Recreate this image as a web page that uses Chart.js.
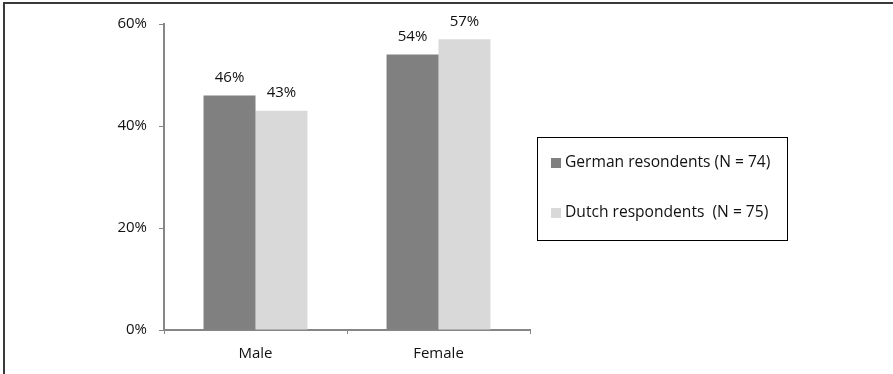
<!DOCTYPE html>
<html>
<head>
<meta charset="utf-8">
<script src="https://cdn.jsdelivr.net/npm/chart.js@4"></script>
<style>
  html, body { margin: 0; padding: 0; background: #fff; }
  #frame {
    position: absolute; left: 3px; top: 2px; right: 0; bottom: 0;
    border-left: 2px solid #3a3a3a; border-top: 2px solid #3a3a3a;
  }
  #wrap { position: absolute; left: 0; top: 0; width: 893px; height: 374px; }
</style>
</head>
<body>
<div id="frame"></div>
<div id="wrap"><canvas id="chart" width="893" height="374"></canvas></div>
<script>
const categories = ['Male', 'Female'];
const germanValues = [46, 54];
const dutchValues = [43, 57];
const seriesLabels = ['German resondents (N = 74)', 'Dutch respondents  (N = 75)'];
const tickValues = [0, 20, 40, 60];

const FONT = '"Open Sans", sans-serif';
const TEXT = '#111';
const AXIS = '#868686';

// value labels over each bar
const barLabels = {
  id: 'barLabels',
  afterDatasetsDraw(chart) {
    const ctx = chart.ctx;
    ctx.save();
    ctx.font = '15px ' + FONT;
    ctx.fillStyle = TEXT;
    ctx.textAlign = 'center';
    ctx.textBaseline = 'middle';
    chart.data.datasets.forEach((ds, i) => {
      chart.getDatasetMeta(i).data.forEach((bar, j) => {
        ctx.fillText(ds.data[j] + '%', bar.x, bar.y - 18);
      });
    });
    ctx.restore();
  }
};

// boxed legend on the right
const boxLegend = {
  id: 'boxLegend',
  afterDraw(chart) {
    const ctx = chart.ctx;
    ctx.save();
    ctx.strokeStyle = '#000';
    ctx.lineWidth = 1;
    ctx.strokeRect(537.5, 137.5, 250, 103);
    ctx.font = '15.6px ' + FONT;
    ctx.textBaseline = 'middle';
    ctx.textAlign = 'left';
    chart.data.datasets.forEach((ds, i) => {
      const y = 163 + i * 50;
      ctx.fillStyle = ds.backgroundColor;
      ctx.fillRect(551, y - 5, 10, 10);
      ctx.fillStyle = TEXT;
      ctx.fillText(ds.label, 565, y);
    });
    ctx.restore();
  }
};

new Chart(document.getElementById('chart'), {
  type: 'bar',
  data: {
    labels: categories,
    datasets: [
      { label: seriesLabels[0], data: germanValues, backgroundColor: '#808080', borderWidth: 0 },
      { label: seriesLabels[1], data: dutchValues, backgroundColor: '#d9d9d9', borderWidth: 0 }
    ]
  },
  options: {
    responsive: false,
    animation: false,
    categoryPercentage: 0.568,
    barPercentage: 1,
    layout: { padding: { left: 0, top: 24, right: 363, bottom: 0 } },
    plugins: {
      legend: { display: false },
      tooltip: { enabled: false }
    },
    scales: {
      x: {
        afterFit(scale) { scale.height = 44; },
        grid: { drawOnChartArea: false, offset: true, tickLength: 4, color: AXIS },
        border: { color: AXIS, width: 2 },
        ticks: { font: { family: FONT, size: 15 }, color: TEXT, padding: 11 }
      },
      y: {
        min: 0,
        max: 60,
        afterFit(scale) { scale.width = 164; },
        afterBuildTicks(scale) { scale.ticks = tickValues.map(v => ({ value: v })); },
        grid: { drawOnChartArea: false, tickLength: 5, color: AXIS },
        border: { color: AXIS, width: 2 },
        ticks: {
          font: { family: FONT, size: 15 },
          color: TEXT,
          padding: 12,
          callback: v => v + '%'
        }
      }
    }
  },
  plugins: [barLabels, boxLegend]
});
</script>
</body>
</html>
